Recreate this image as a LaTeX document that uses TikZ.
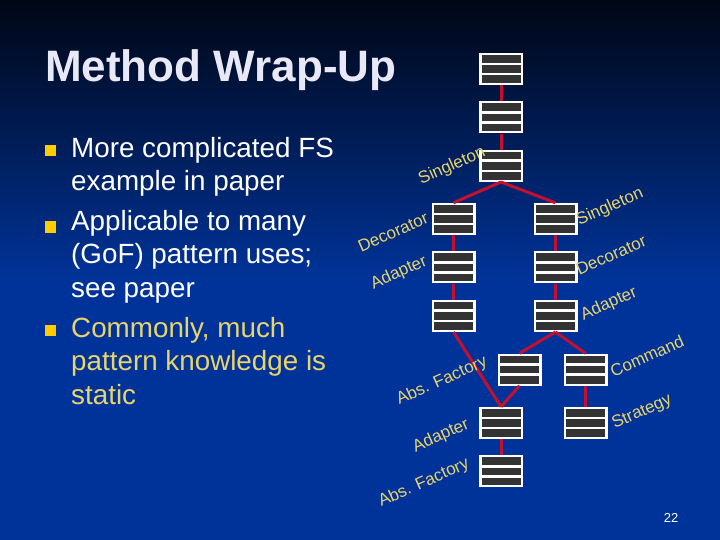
\documentclass[tikz,border=0pt]{standalone}
\usepackage{fontspec}
\setmainfont{Liberation Sans}
\usepackage{xcolor}
\usepackage{tikz}
\usetikzlibrary{positioning}
\definecolor{slidetop}{HTML}{000614}
\definecolor{slidemid}{HTML}{0A2884}
\definecolor{slideblue}{HTML}{003399}
\definecolor{titlewhite}{HTML}{E8E8F6}
\definecolor{hintyellow}{HTML}{E8D46C}
\definecolor{bulletgold}{HTML}{FFCC00}
\definecolor{linkred}{HTML}{C4102E}
\definecolor{classgray}{HTML}{333333}

\begin{document}
\begin{tikzpicture}[x=1pt, y=-1pt,
  cls/.style={fill=white, minimum width=44pt, minimum height=32pt, inner sep=0pt,
    path picture={\foreach \dy in {-14,-3.8,6.4}
      \fill[classgray] ([shift={(-19.5pt,\dy pt)}]path picture bounding box.center) rectangle ++(39pt,7.6pt);}},
  pat/.style={text=hintyellow, font=\fontsize{17}{17}\selectfont, rotate=24, inner sep=0pt},
  link/.style={draw=linkred, line width=3pt},
  bullet/.style={fill=bulletgold, minimum size=11pt, inner sep=0pt},
  para/.style={anchor=north west, inner sep=0pt, align=left, font=\fontsize{27.8}{33.5}\selectfont}]
\useasboundingbox (0,0) rectangle (720,540);
\shade[top color=slidetop, middle color=slidemid, bottom color=slideblue] (0,0) rectangle (720,280);
\fill[slideblue] (0,280) rectangle (720,540);

% title and bullets
\node[anchor=base west, inner sep=0pt, text=titlewhite, font=\fontsize{44}{44}\selectfont\bfseries] (title) at (45,82) {Method Wrap-Up};
\node[bullet] (b1) at (50.5,151) {};
\node[bullet] (b2) at (50.5,227) {};
\node[bullet] (b3) at (50.5,330) {};
\node[para, text=white] (p1) at (71,137) {More complicated FS\\example in paper};
\node[para, text=white] (p2) at (71,210) {Applicable to many\\(GoF) pattern uses;\\see paper};
\node[para, text=hintyellow] (p3) at (71,317) {Commonly, much\\pattern knowledge is\\static};

% class boxes
\node[cls] (t1) at (501,69) {};
\node[cls, below=16pt of t1] (t2) {};
\node[cls, below=16pt of t2] (t3) {};
\node[cls] (l1) at (453.5,219) {};
\node[cls, below=16pt of l1] (l2) {};
\node[cls, below=16pt of l2] (l3) {};
\node[cls] (r1) at (555.5,219) {};
\node[cls, below=16pt of r1] (r2) {};
\node[cls, below=16pt of r2] (r3) {};
\node[cls] (f1) at (519.5,369.5) {};
\node[cls] (c1) at (585.5,369.5) {};
\node[cls] (a1) at (501,423) {};
\node[cls, below=16pt of a1] (a2) {};
\node[cls] (s1) at (585.5,423) {};
\foreach \a/\b in {t1/t2, t2/t3, t3/l1, t3/r1, l1/l2, l2/l3, r1/r2, r2/r3, l3/a1, f1/a1, r3/f1, r3/c1, c1/s1, a1/a2}
  \draw[link] (\a.south) -- (\b.north);

% pattern names
\node[pat] (n1) at (452,166) {Singleton};
\node[pat] (n2) at (610,207) {Singleton};
\node[pat] (n3) at (393,232) {Decorator};
\node[pat] (n4) at (399,273) {Adapter};
\node[pat] (n5) at (611,255) {Decorator};
\node[pat] (n6) at (609,304) {Adapter};
\node[pat] (n7) at (442,381) {Abs. Factory};
\node[pat] (n8) at (647,356) {Command};
\node[pat] (n9) at (642,412) {Strategy};
\node[pat] (n10) at (441,436) {Adapter};
\node[pat] (n11) at (424,483) {Abs. Factory};

\node[text=white, font=\fontsize{13}{13}\selectfont] (pg) at (671,518) {22};
\end{tikzpicture}
\end{document}
